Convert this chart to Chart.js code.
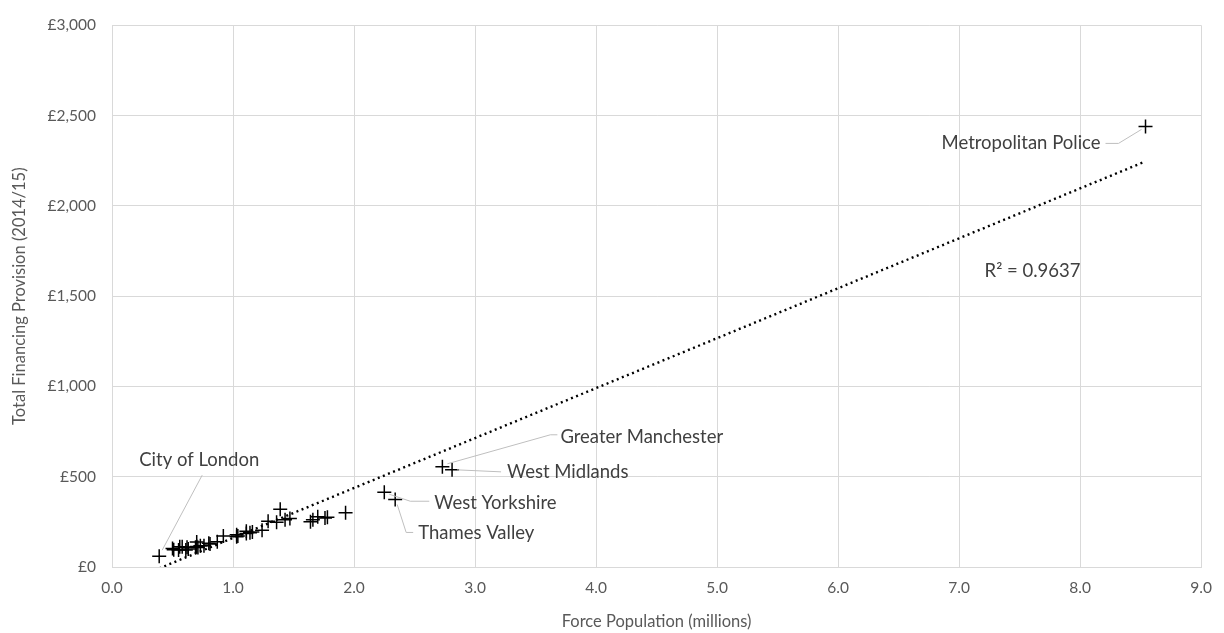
<!DOCTYPE html>
<html>
<head>
<meta charset="utf-8">
<script src="https://cdn.jsdelivr.net/npm/chart.js@4"></script>
<style>
  html, body { margin: 0; padding: 0; background: #fff; }
  #wrap { width: 1224px; height: 633px; }
</style>
</head>
<body>
<div id="wrap"><canvas id="grafica" width="1224" height="633"></canvas></div>
<script>
// Police forces: population (millions) vs total financing provision 2014/15 (£m)
const forces = ['City of London', 'Metropolitan Police', 'Greater Manchester', 'West Midlands', 'West Yorkshire', 'Thames Valley',
  'Avon & Somerset', 'Bedfordshire', 'Cambridgeshire', 'Cheshire', 'Cleveland', 'Cumbria', 'Derbyshire',
  'Devon & Cornwall', 'Dorset', 'Durham', 'Dyfed-Powys', 'Essex', 'Gloucestershire', 'Gwent', 'Hampshire',
  'Hertfordshire', 'Humberside', 'Kent', 'Lancashire', 'Leicestershire', 'Lincolnshire', 'Merseyside', 'Norfolk',
  'North Wales', 'North Yorkshire', 'Northamptonshire', 'Northumbria', 'Nottinghamshire', 'South Wales',
  'South Yorkshire', 'Staffordshire', 'Suffolk', 'Surrey', 'Sussex', 'Warwickshire', 'West Mercia', 'Wiltshire'];
const population = [0.39, 8.54, 2.73, 2.81, 2.25, 2.34,
  1.66, 0.63, 0.81, 1.04, 0.56, 0.50, 1.03,
  1.70, 0.76, 0.62, 0.51, 1.76, 0.61, 0.58, 1.93,
  1.14, 0.92, 1.78, 1.47, 1.03, 0.71, 1.39, 0.87,
  0.70, 0.80, 0.70, 1.43, 1.11, 1.29,
  1.36, 1.11, 0.73, 1.16, 1.64, 0.55, 1.24, 0.69];
const funding = [60, 2440, 555, 538, 414, 374,
  262, 100, 128, 172, 112, 103, 168,
  278, 118, 110, 96, 272, 94, 112, 300,
  190, 172, 276, 268, 178, 108, 320, 140,
  138, 132, 113, 262, 198, 254,
  248, 185, 117, 194, 250, 94, 203, 110];

const xTicks = { min: 0, max: 9, step: 1 };
const yTicks = { min: 0, max: 3000, step: 500 };
const r2Text = 'R² = 0.9637';

// labels with leader lines (offsets in px from the point)
const etiquetas = [
  { name: 'City of London', text: [-20, -96], align: 'left', leader: [[43, -81]] },
  { name: 'Metropolitan Police', text: [-45, 17], align: 'right', leader: [[-27, 17], [-40, 17]], start: [-4, 3] },
  { name: 'Greater Manchester', text: [118, -30], align: 'left', leader: [[108, -32], [115, -32]], start: [5, -3] },
  { name: 'West Midlands', text: [55, 2], align: 'left', leader: [[49, 2]], start: [5, 0] },
  { name: 'West Yorkshire', text: [50, 11], align: 'left', leader: [[26, 9], [45, 9]], start: [5, 2] },
  { name: 'Thames Valley', text: [23, 34], align: 'left', leader: [[11, 33], [18, 33]], start: [2, 5] }
];

// línea de tendencia por mínimos cuadrados
const n = population.length;
const mx = population.reduce((a, b) => a + b, 0) / n;
const my = funding.reduce((a, b) => a + b, 0) / n;
let sxy = 0, sxx = 0;
for (let i = 0; i < n; i++) {
  sxy += (population[i] - mx) * (funding[i] - my);
  sxx += (population[i] - mx) * (population[i] - mx);
}
const pendiente = sxy / sxx;
const corte = my - pendiente * mx;
const xMin = Math.min(...population), xMax = Math.max(...population);
const tendencia = [
  { x: xMin, y: corte + pendiente * xMin },
  { x: xMax, y: corte + pendiente * xMax }
];

const puntos = population.map((p, i) => ({ x: p, y: funding[i] }));

const FONT = 'Lato, "Noto Sans", sans-serif';

const labelPlugin = {
  id: 'etiquetas',
  afterDatasetsDraw(chart) {
    const ctx = chart.ctx;
    const xs = chart.scales.x, ys = chart.scales.y;
    ctx.save();
    ctx.font = '18.5px ' + FONT;
    ctx.textBaseline = 'middle';
    etiquetas.forEach(l => {
      const i = forces.indexOf(l.name);
      const px = xs.getPixelForValue(population[i]);
      const py = ys.getPixelForValue(funding[i]);
      const s = l.start || [3, -6];
      ctx.strokeStyle = '#bfbfbf';
      ctx.lineWidth = 1;
      ctx.beginPath();
      ctx.moveTo(px + s[0], py + s[1]);
      l.leader.forEach(p => ctx.lineTo(px + p[0], py + p[1]));
      ctx.stroke();
      ctx.fillStyle = '#404040';
      ctx.textAlign = l.align;
      ctx.fillText(l.name, px + l.text[0], py + l.text[1]);
    });
    // R² label next to the trend line
    ctx.textAlign = 'left';
    ctx.fillText(r2Text, xs.getPixelForValue(7.21), ys.getPixelForValue(1637));
    ctx.restore();
  }
};

const ctx = document.getElementById('grafica').getContext('2d');
new Chart(ctx, {
  type: 'scatter',
  data: {
    datasets: [{
      label: 'Forces',
      data: puntos,
      pointStyle: 'cross',
      pointRadius: 7,
      pointHoverRadius: 7,
      borderColor: '#000',
      backgroundColor: '#000',
      pointBorderWidth: 1.5,
      showLine: false
    }, {
      label: 'Trend',
      type: 'line',
      data: tendencia,
      borderColor: '#000',
      borderWidth: 2.4,
      borderDash: [2, 3.5],
      pointRadius: 0,
      fill: false
    }]
  },
  options: {
    responsive: false,
    animation: false,
    layout: { padding: { top: 21, right: 16, left: 0, bottom: 0 } },
    plugins: { legend: { display: false }, tooltip: { enabled: false } },
    scales: {
      x: {
        type: 'linear',
        min: xTicks.min, max: xTicks.max,
        ticks: { stepSize: xTicks.step, color: '#595959', font: { family: FONT, size: 15.5 }, padding: 12,
                 callback: v => v.toFixed(1) },
        grid: { color: '#d9d9d9', drawTicks: false },
        border: { color: '#d9d9d9' },
        title: { display: true, text: 'Force Population (millions)', color: '#595959',
                 font: { family: FONT, size: 16.5 }, padding: { top: 0, bottom: 1 } },
        afterFit: s => { s.height = 66; }
      },
      y: {
        min: yTicks.min, max: yTicks.max,
        ticks: { stepSize: yTicks.step, color: '#595959', font: { family: FONT, size: 15.5 }, padding: 16,
                 callback: v => '£' + v.toLocaleString('en-GB') },
        grid: { color: '#d9d9d9', drawTicks: false },
        border: { color: '#d9d9d9' },
        title: { display: true, text: 'Total Financing Provision (2014/15)', color: '#595959',
                 font: { family: FONT, size: 16.5 }, padding: { top: 10, bottom: 0 } },
        afterFit: s => { s.width = 112; }
      }
    }
  },
  plugins: [labelPlugin]
});
</script>
</body>
</html>
